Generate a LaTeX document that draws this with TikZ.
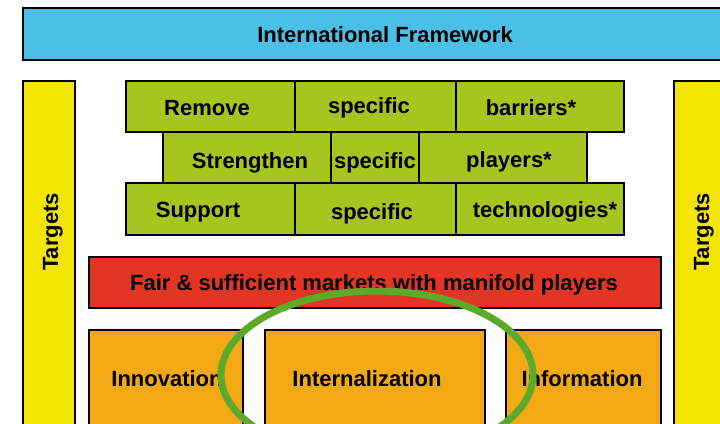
\documentclass[tikz,border=0pt]{standalone}
\usepackage{fontspec}
\setmainfont{Liberation Sans}
\begin{document}
\definecolor{frameblue}{HTML}{4BBFE6}
\definecolor{targetyellow}{HTML}{F2E500}
\definecolor{brickgreen}{HTML}{A8C41E}
\definecolor{marketred}{HTML}{E33524}
\definecolor{pillarorange}{HTML}{F3A816}
\definecolor{ringgreen}{HTML}{5DAA2B}
\begin{tikzpicture}[x=1pt,y=-1pt,
  box/.style={draw=black,line width=2pt},
  lbl/.style={font=\fontsize{22}{24}\selectfont\bfseries,anchor=base,inner sep=0pt}]
\useasboundingbox (0,0) rectangle (720,423);
% top band
\draw[box,fill=frameblue] (23,8) rectangle (740,60);
\node[lbl] (intl) at (385,42) {International Framework};
% side pillars
\draw[box,fill=targetyellow] (23,81) rectangle (75,440);
\draw[box,fill=targetyellow] (674,81) rectangle (740,440);
\node[lbl,rotate=90] (tleft) at (58,232) {Targets};
\node[lbl,rotate=90] (tright) at (709,232) {Targets};
% brick rows
\draw[box,fill=brickgreen] (126,81) rectangle (295,132);
\draw[box,fill=brickgreen] (295,81) rectangle (456,132);
\draw[box,fill=brickgreen] (456,81) rectangle (624,132);
\draw[box,fill=brickgreen] (163,132) rectangle (331,183);
\draw[box,fill=brickgreen] (331,132) rectangle (419,183);
\draw[box,fill=brickgreen] (419,132) rectangle (587,183);
\draw[box,fill=brickgreen] (126,183) rectangle (295,235);
\draw[box,fill=brickgreen] (295,183) rectangle (456,235);
\draw[box,fill=brickgreen] (456,183) rectangle (624,235);
\node[lbl] (remove) at (207,115) {Remove};
\node[lbl] (spec1) at (369,113) {specific};
\node[lbl] (barr) at (531,115) {barriers*};
\node[lbl] (streng) at (250,168) {Strengthen};
\node[lbl] (spec2) at (375,168) {specific};
\node[lbl] (play) at (509,167) {players*};
\node[lbl] (supp) at (198,217) {Support};
\node[lbl] (spec3) at (372,219) {specific};
\node[lbl] (tech) at (545,217) {technologies*};
% market band
\draw[box,fill=marketred] (89,257) rectangle (661,308);
\node[lbl] (market) at (374,290) {Fair \& sufficient markets with manifold players};
% lower pillars
\draw[box,fill=pillarorange] (89,330) rectangle (243,440);
\draw[box,fill=pillarorange] (265,330) rectangle (485,440);
\draw[box,fill=pillarorange] (506,330) rectangle (661,440);
\node[lbl] (innov) at (167,386) {Innovation};
\node[lbl] (intern) at (367,386) {Internalization};
\node[lbl] (inform) at (582,386) {Information};
% highlight ring
\draw[ringgreen,line width=7pt] (377,375) ellipse [x radius=156, y radius=84];
\end{tikzpicture}
\end{document}
